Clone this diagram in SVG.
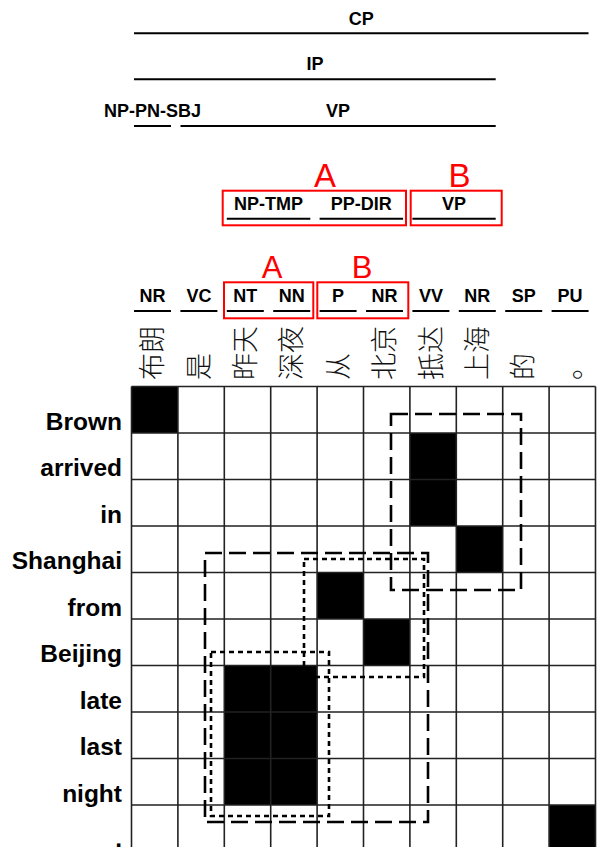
<svg xmlns="http://www.w3.org/2000/svg" width="597" height="847" viewBox="0 0 597 847">
<style>
.lbl{font-family:"Liberation Sans",Arial,sans-serif;font-weight:bold;font-size:18px;fill:#000;text-anchor:middle}
.row{font-family:"Liberation Sans",Arial,sans-serif;font-weight:bold;font-size:24.5px;fill:#000;text-anchor:end}
.red{font-family:"Liberation Sans",Arial,sans-serif;font-size:33px;fill:#ff0000;text-anchor:middle}
.zh{font-family:"Noto Sans CJK SC",sans-serif;font-weight:300;font-size:27px;fill:#111;dominant-baseline:central}
.ul{stroke:#000;stroke-width:2;fill:none}
.rbox{stroke:#ff0000;stroke-width:2;fill:none}
.grid{stroke:#222;stroke-width:1.6;fill:none}
.long{stroke:#000;stroke-width:2.6;fill:none;stroke-dasharray:17 7}
.short{stroke:#000;stroke-width:2.6;fill:none;stroke-dasharray:5 4}
</style>
<rect width="597" height="847" fill="#fff"/>
<g id="tree-top">
<g id="CP"><text class="lbl" x="361.3" y="25">CP</text><line class="ul" x1="134" y1="33.3" x2="588.5" y2="33.3"/></g>
<g id="IP"><text class="lbl" x="315" y="70">IP</text><line class="ul" x1="134" y1="79.3" x2="495.7" y2="79.3"/></g>
<g id="NP-PN-SBJ"><text class="lbl" x="152.5" y="117">NP-PN-SBJ</text><line class="ul" x1="134" y1="126" x2="171" y2="126"/></g>
<g id="VP-top"><text class="lbl" x="338" y="117">VP</text><line class="ul" x1="180.5" y1="126" x2="495.7" y2="126"/></g>
</g>
<g id="tree-mid">
<g id="NP-TMP"><text class="lbl" x="268.5" y="209.5">NP-TMP</text><line class="ul" x1="226.8" y1="218.7" x2="310.3" y2="218.7"/></g>
<g id="PP-DIR"><text class="lbl" x="361.3" y="209.5">PP-DIR</text><line class="ul" x1="319.6" y1="218.7" x2="403.1" y2="218.7"/></g>
<g id="VP-mid"><text class="lbl" x="454" y="209.5">VP</text><line class="ul" x1="412.4" y1="218.7" x2="495.7" y2="218.7"/></g>
<g id="mid-boxes">
<rect class="rbox" x="222.7" y="190.7" width="183.3" height="34.6"/>
<rect class="rbox" x="410.7" y="190.7" width="91" height="34.6"/>
<text class="red" x="325" y="186.7">A</text>
<text class="red" x="459.5" y="186.7">B</text>
</g>
</g>
<g id="pos">
<g id="pos0"><text class="lbl" x="152.5" y="302">NR</text><line class="ul" x1="134" y1="311" x2="171" y2="311"/></g>
<g id="pos1"><text class="lbl" x="198.9" y="302">VC</text><line class="ul" x1="180.4" y1="311" x2="217.4" y2="311"/></g>
<g id="pos2"><text class="lbl" x="245.3" y="302">NT</text><line class="ul" x1="226.8" y1="311" x2="263.8" y2="311"/></g>
<g id="pos3"><text class="lbl" x="291.7" y="302">NN</text><line class="ul" x1="273.2" y1="311" x2="310.2" y2="311"/></g>
<g id="pos4"><text class="lbl" x="338.1" y="302">P</text><line class="ul" x1="319.6" y1="311" x2="356.6" y2="311"/></g>
<g id="pos5"><text class="lbl" x="384.5" y="302">NR</text><line class="ul" x1="366" y1="311" x2="403" y2="311"/></g>
<g id="pos6"><text class="lbl" x="430.9" y="302">VV</text><line class="ul" x1="412.4" y1="311" x2="449.4" y2="311"/></g>
<g id="pos7"><text class="lbl" x="477.3" y="302">NR</text><line class="ul" x1="458.8" y1="311" x2="495.8" y2="311"/></g>
<g id="pos8"><text class="lbl" x="523.7" y="302">SP</text><line class="ul" x1="505.2" y1="311" x2="542.2" y2="311"/></g>
<g id="pos9"><text class="lbl" x="570.1" y="302">PU</text><line class="ul" x1="551.6" y1="311" x2="588.6" y2="311"/></g>
<g id="pos-boxes">
<rect class="rbox" x="224" y="282.3" width="89.3" height="36"/>
<rect class="rbox" x="317.3" y="282.3" width="91" height="36"/>
<text class="red" x="272" y="278.3" style="font-size:31px">A</text>
<text class="red" x="362" y="278.3" style="font-size:31px">B</text>
</g>
</g>
<g id="chinese">
<text class="zh" transform="translate(150.7,380) rotate(-90)">布朗</text>
<text class="zh" transform="translate(197.1,380) rotate(-90)">是</text>
<text class="zh" transform="translate(243.5,380) rotate(-90)">昨天</text>
<text class="zh" transform="translate(289.9,380) rotate(-90)">深夜</text>
<text class="zh" transform="translate(336.3,380) rotate(-90)">从</text>
<text class="zh" transform="translate(382.7,380) rotate(-90)">北京</text>
<text class="zh" transform="translate(429.1,380) rotate(-90)">抵达</text>
<text class="zh" transform="translate(475.5,380) rotate(-90)">上海</text>
<text class="zh" transform="translate(521.9,380) rotate(-90)">的</text>
<text class="zh" transform="translate(568.3,380) rotate(-90)">。</text>
</g>
<g id="rows">
<text class="row" x="122" y="429.5">Brown</text>
<text class="row" x="122" y="476">arrived</text>
<text class="row" x="122" y="522.5">in</text>
<text class="row" x="122" y="569">Shanghai</text>
<text class="row" x="122" y="615.5">from</text>
<text class="row" x="122" y="662">Beijing</text>
<text class="row" x="122" y="708.5">late</text>
<text class="row" x="122" y="755">last</text>
<text class="row" x="122" y="801.5">night</text>
<text class="row" x="122" y="846.5">.</text>
</g>
<g id="matrix">
<g id="cells" fill="#000">
<rect x="131.5" y="386.5" width="46.4" height="46.5"/>
<rect x="409.9" y="433" width="46.4" height="93"/>
<rect x="456.3" y="526" width="46.4" height="46.5"/>
<rect x="317.1" y="572.5" width="46.4" height="46.5"/>
<rect x="363.5" y="619" width="46.4" height="46.5"/>
<rect x="224.3" y="665.5" width="92.8" height="139.5"/>
<rect x="549.1" y="805" width="46.4" height="46.5"/>
</g>
<g id="gridlines" class="grid">
<path d="M131.5 386.5V852M177.9 386.5V852M224.3 386.5V852M270.7 386.5V852M317.1 386.5V852M363.5 386.5V852M409.9 386.5V852M456.3 386.5V852M502.7 386.5V852M549.1 386.5V852M595.5 386.5V852"/>
<path d="M131.5 386.5H595.5M131.5 433H595.5M131.5 479.5H595.5M131.5 526H595.5M131.5 572.5H595.5M131.5 619H595.5M131.5 665.5H595.5M131.5 712H595.5M131.5 758.5H595.5M131.5 805H595.5"/>
</g>
</g>
<g id="connectors">
<rect class="long" x="391" y="414" width="130" height="176"/>
<rect class="short" x="304" y="559" width="120" height="118"/>
<rect class="long" x="205" y="553" width="223" height="269"/>
<rect class="short" x="211" y="652" width="118" height="164"/>
</g>
</svg>
